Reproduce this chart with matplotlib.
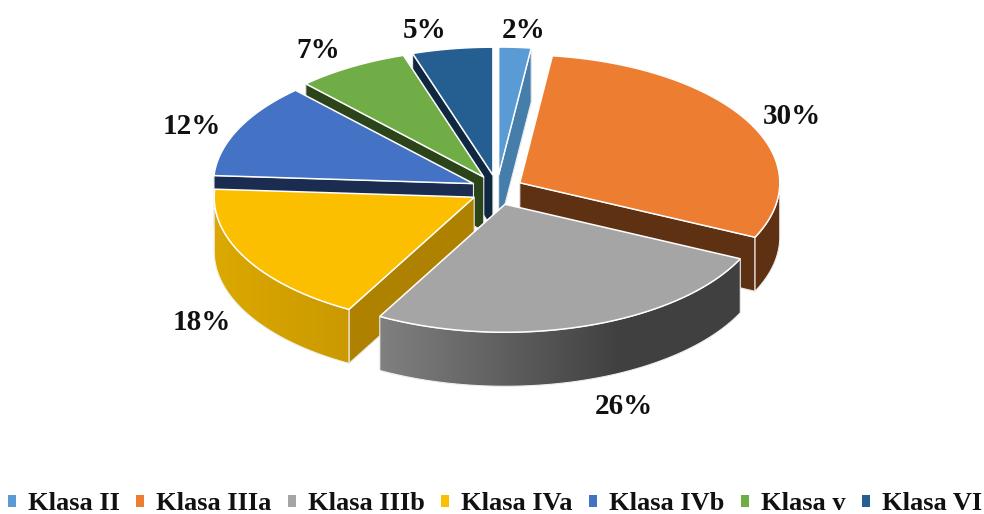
import numpy as np
import matplotlib
matplotlib.use("Agg")
import matplotlib.pyplot as plt
from matplotlib.patches import Polygon, Patch
from matplotlib.colors import to_rgb

# data
categories = ["Klasa II", "Klasa IIIa", "Klasa IIIb", "Klasa IVa", "Klasa IVb", "Klasa v", "Klasa VI"]
values = [2, 30, 26, 18, 12, 7, 5]
labels = ["2%", "30%", "26%", "18%", "12%", "7%", "5%"]

# styles
top_colors = ["#5b9bd5", "#ed7d31", "#a5a5a5", "#fbbf00", "#4472c4", "#70ad47", "#255e91"]
cut_colors = ["#457dab", "#5f3113", "#444444", "#ae8200", "#1a2c50", "#2b4419", "#0f2740"]
wall_left = ["#457dab", "#5f3113", "#808080", "#dca800", "#1a2c50", "#2b4419", "#0f2740"]
wall_right = ["#457dab", "#5f3113", "#404040", "#bc8e00", "#1a2c50", "#2b4419", "#0f2740"]
label_xy = [(524, 30), (792, 117), (624, 407), (202, 322), (192, 126), (318, 50), (425, 30)]

CX, CY = 497, 190
RX, RY = 260, 128
EX, EY = 26, 15
DEPTH = 54
FONT = "Liberation Serif"

fig = plt.figure(figsize=(9.84, 5.14), dpi=100)
ax = fig.add_axes([0, 0, 1, 1])


def rim(cx, cy, t):
    return cx + RX * np.sin(t), cy - RY * np.cos(t)


def draw_cut(cx, cy, t, color, z):
    x, y = rim(cx, cy, t)
    pts = [(cx, cy), (x, y), (x, y + DEPTH), (cx, cy + DEPTH)]
    ax.add_patch(Polygon(pts, closed=True, fc=color, ec="#e8e8e8", lw=0.8, zorder=z))


def draw_wall(cx, cy, t0, t1, c0, c1, z):
    # outer wall is only seen on the front half
    a = max(t0, np.pi / 2)
    b = min(t1, 3 * np.pi / 2)
    if a >= b:
        return
    ts = np.linspace(a, b, 120)
    xs, ys = rim(cx, cy, ts)
    pts = np.column_stack([np.r_[xs, xs[::-1]], np.r_[ys, ys[::-1] + DEPTH]])
    x_lo, x_hi = xs.min(), xs.max()
    f = np.clip((np.linspace(x_lo, x_hi, 256) - x_lo) / 240, 0, 1)[None, :, None]
    c0, c1 = np.array(to_rgb(c0)), np.array(to_rgb(c1))
    grad = c0[None, None, :] + (c1 - c0)[None, None, :] * f
    img = ax.imshow(grad, extent=(x_lo, x_hi, 0, 514), aspect="auto", zorder=z, interpolation="bilinear")
    outline = Polygon(pts, closed=True, fc="none", ec="#eeeeee", lw=0.8, zorder=z + 0.1)
    ax.add_patch(outline)
    img.set_clip_path(outline)


edges = np.cumsum([0] + values) / sum(values) * 2 * np.pi
# back slices first, front ones last
order = [6, 5, 0, 4, 1, 3, 2]
for z, i in enumerate(order):
    t0, t1 = edges[i], edges[i + 1]
    mid = 0.5 * (t0 + t1)
    cx = CX + EX * np.sin(mid)
    cy = CY - EY * np.cos(mid)
    base = z * 10 + 2
    if np.sin(t0) < 0:
        draw_cut(cx, cy, t0, cut_colors[i], base)
    if np.sin(t1) > 0:
        draw_cut(cx, cy, t1, cut_colors[i], base)
    draw_wall(cx, cy, t0, t1, wall_left[i], wall_right[i], base + 1)
    ts = np.linspace(t0, t1, 120)
    xs, ys = rim(cx, cy, ts)
    pts = np.column_stack([np.r_[cx, xs], np.r_[cy, ys]])
    ax.add_patch(Polygon(pts, closed=True, fc=top_colors[i], ec="white", lw=1.1, zorder=base + 2))

ax.set_xlim(0, 984)
ax.set_ylim(514, 0)
ax.axis("off")

for lab, (x, y) in zip(labels, label_xy):
    ax.text(x, y, lab, ha="center", va="center", fontsize=21, fontweight="bold",
            family=FONT, color="#111111", zorder=200)

handles = [Patch(fc=c, ec="none") for c in top_colors]
leg = ax.legend(handles, categories, ncol=7, loc="lower center", bbox_to_anchor=(0.503, -0.002),
                frameon=False, handlelength=0.32, handleheight=0.32, handletextpad=0.45,
                columnspacing=0.61, borderpad=0, borderaxespad=0,
                prop={"family": FONT, "weight": "bold", "size": 19})
for t in leg.get_texts():
    t.set_color("#111111")

fig.savefig("out.png", dpi=100)
